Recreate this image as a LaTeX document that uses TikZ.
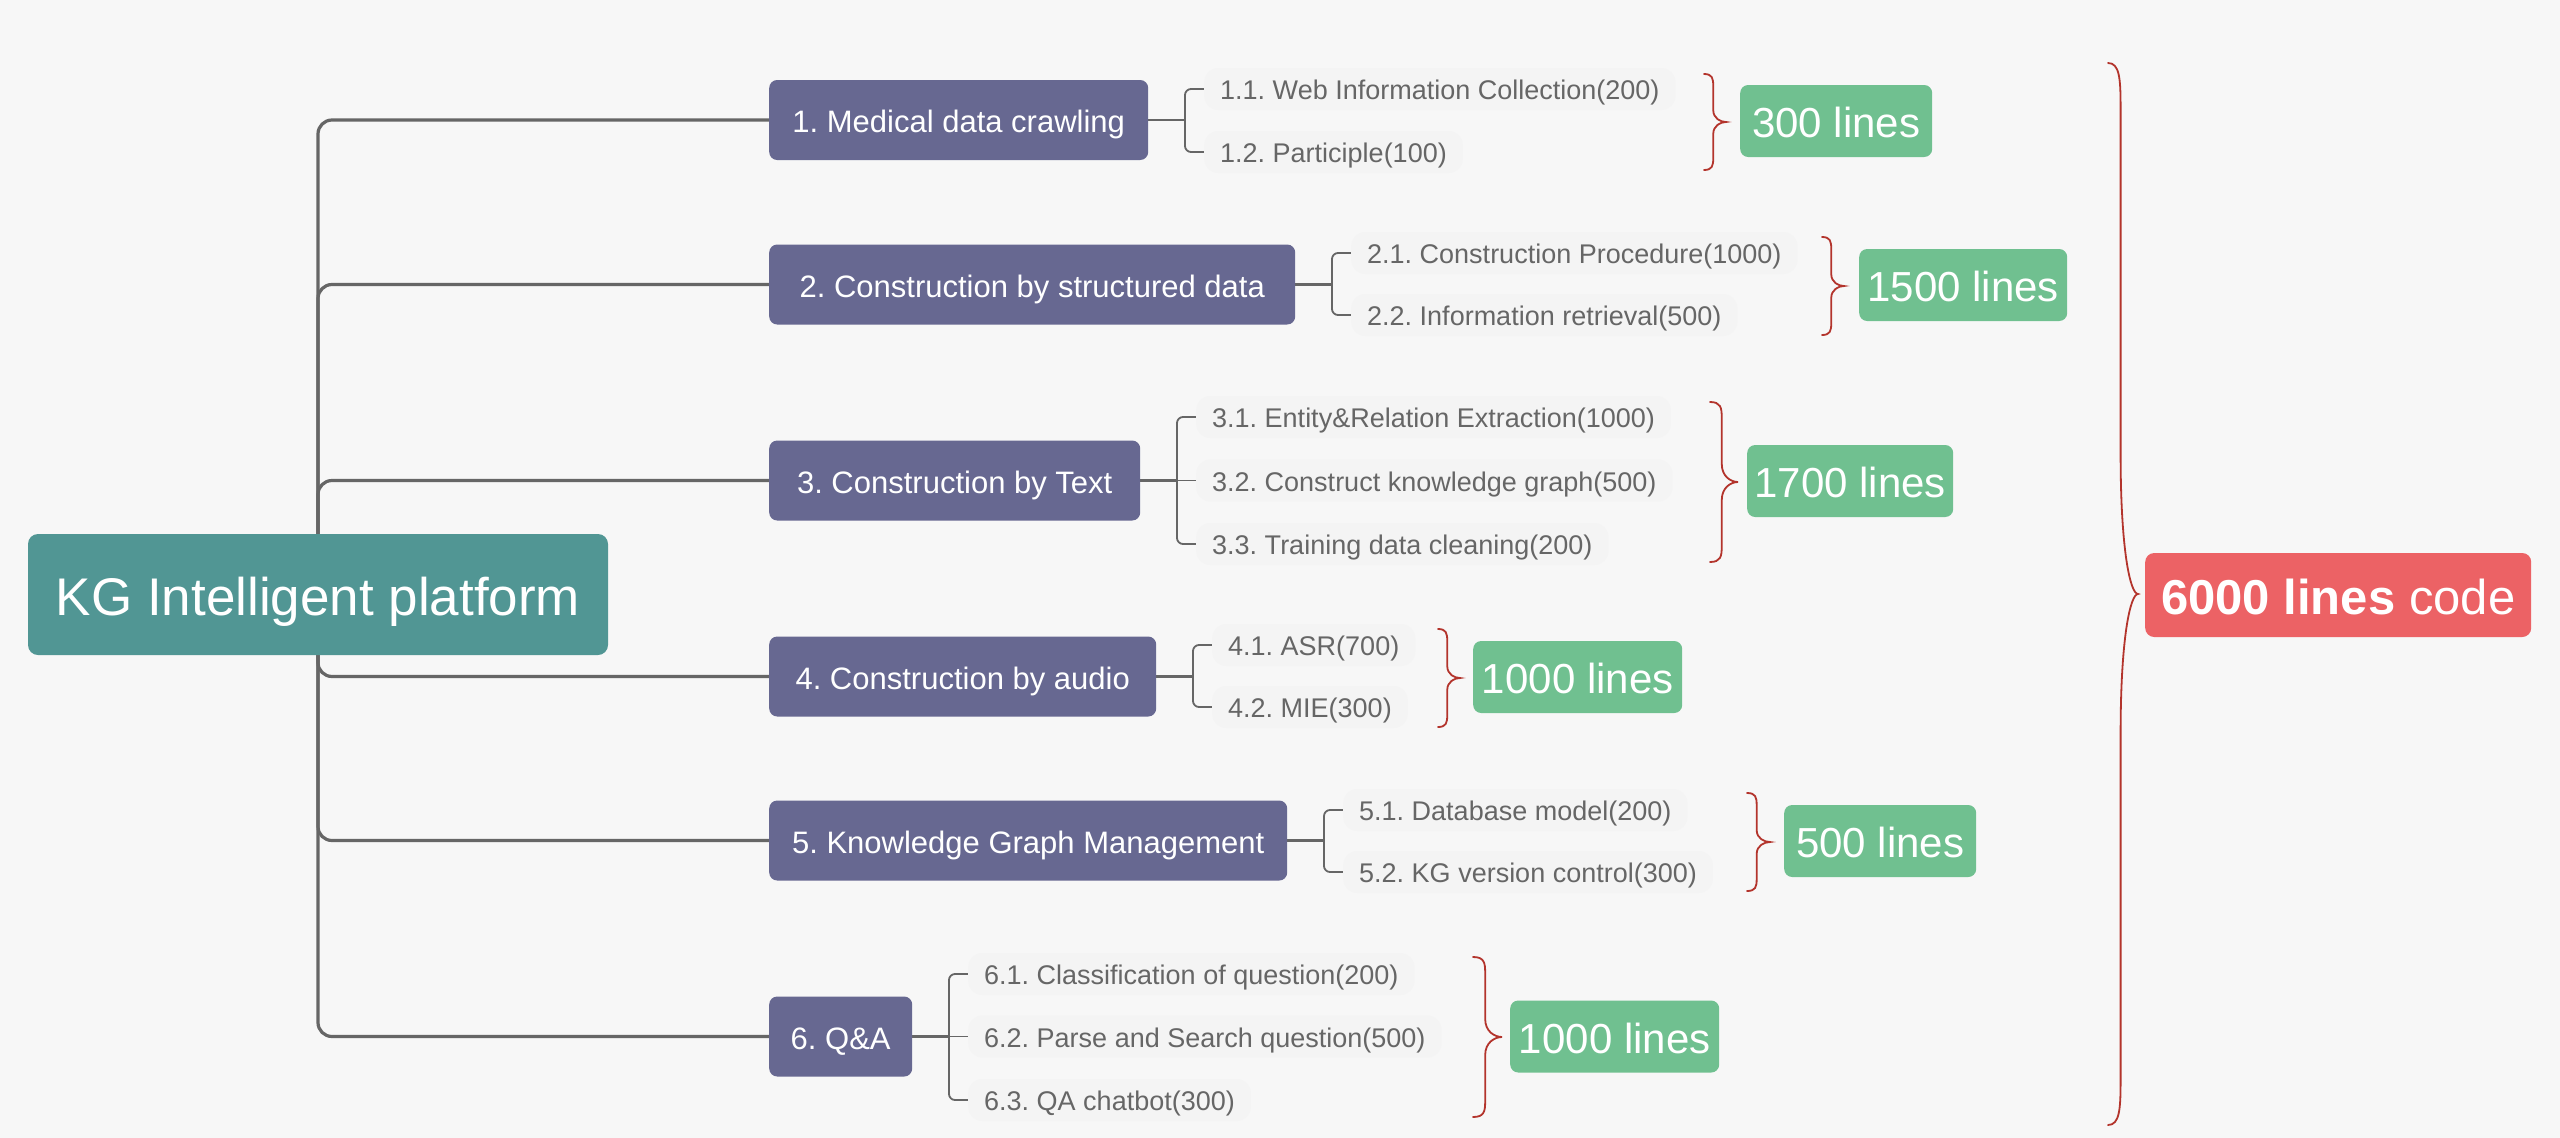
\documentclass[tikz,border=0pt]{standalone}
\usepackage{fontspec}
\setmainfont{Liberation Sans}
\frenchspacing

\definecolor{bgc}{HTML}{F7F7F7}
\definecolor{rootc}{HTML}{519694}
\definecolor{branchc}{HTML}{676891}
\definecolor{leafbg}{HTML}{F4F4F4}
\definecolor{leaftext}{HTML}{666666}
\definecolor{linec}{HTML}{666666}
\definecolor{countc}{HTML}{70C090}
\definecolor{totalc}{HTML}{EC6265}
\definecolor{bracec}{HTML}{B3342C}

\pgfdeclarelayer{back}
\pgfdeclarelayer{wires}
\pgfsetlayers{back,wires,main}

\tikzset{
  rootbox/.style={text height=42pt, text depth=0pt, fill=rootc, text=white, rounded corners=10pt,
    minimum width=580pt, minimum height=121pt, inner sep=0pt, font=\fontsize{53}{62}\selectfont},
  branchbox/.style={text height=25pt, text depth=0pt, fill=branchc, text=white, rounded corners=8pt,
    anchor=west, minimum height=80pt, inner sep=0pt, font=\fontsize{31}{37}\selectfont},
  leaf/.style={text height=21pt, text depth=0pt, fill=leafbg, text=leaftext, rounded corners=14pt,
    anchor=west, minimum height=42pt, inner xsep=16pt, inner ysep=0pt, font=\fontsize{27}{32}\selectfont},
  countbox/.style={text height=33pt, text depth=0pt, fill=countc, text=white, rounded corners=8pt,
    anchor=west, minimum height=72pt, inner sep=0pt, font=\fontsize{42}{50}\selectfont},
  totalbox/.style={text height=38pt, text depth=0pt, fill=totalc, text=white, rounded corners=9pt,
    anchor=west, minimum height=84pt, minimum width=386pt, inner sep=0pt, font=\fontsize{49}{58}\selectfont},
  trunk/.style={draw=linec, line width=3.2pt, rounded corners=14pt},
  stub/.style={draw=linec, line width=2.4pt},
  fork/.style={draw=linec, line width=1.8pt, rounded corners=6pt},
  curly/.style={draw=bracec, line width=1.8pt, line cap=round},
}

% curly brace opening to the right: x0, ytop, ybottom, depth, hook length, sweep length
\newcommand\redbrace[6]{%
  \pgfmathsetmacro\rbX{#1+0.42*#4}%
  \pgfmathsetmacro\rbT{#1+#4}%
  \pgfmathsetmacro\rbM{(#2+#3)/2}%
  \draw[curly] (#1,#2)
    .. controls ({\rbX-1},{#2}) and ({\rbX},{#2+0.35*#5}) .. ({\rbX},{#2+#5})
    -- ({\rbX},{\rbM-#6})
    .. controls ({\rbX},{\rbM-0.3*#6}) and ({\rbT-0.25*#4},{\rbM}) .. ({\rbT},{\rbM})
    .. controls ({\rbT-0.25*#4},{\rbM}) and ({\rbX},{\rbM+0.3*#6}) .. ({\rbX},{\rbM+#6})
    -- ({\rbX},{#3-#5})
    .. controls ({\rbX},{#3-0.35*#5}) and ({\rbX-1},{#3}) .. (#1,#3);
}

\begin{document}
\begin{tikzpicture}[x=1pt, y=-1pt]
  \useasboundingbox (0,0) rectangle (2560,1138);
  \begin{pgfonlayer}{back}
    \fill[bgc] (0,0) rectangle (2560,1138);
  \end{pgfonlayer}

  % root
  \node[rootbox] (root) at (318,594.5) {KG Intelligent platform};

  % main branches
  \node[branchbox, minimum width=379pt] (b1) at (769,120)    {1. Medical data crawling};
  \node[branchbox, minimum width=526pt] (b2) at (769,284.5)  {2. Construction by structured data};
  \node[branchbox, minimum width=371pt] (b3) at (769,480.5)  {3. Construction by Text};
  \node[branchbox, minimum width=387pt] (b4) at (769,676.5)  {4. Construction by audio};
  \node[branchbox, minimum width=518pt] (b5) at (769,840.5)  {5. Knowledge Graph Management};
  \node[branchbox, minimum width=143pt] (b6) at (769,1036.5) {6. Q\&A};

  % sub-items
  \node[leaf] (s11) at (1204,89)  {1.1. Web Information Collection(200)};
  \node[leaf] (s12) at (1204,152) {1.2. Participle(100)};
  \node[leaf] (s21) at (1351,253) {2.1. Construction Procedure(1000)};
  \node[leaf] (s22) at (1351,315) {2.2. Information retrieval(500)};
  \node[leaf] (s31) at (1196,417) {3.1. Entity\&Relation Extraction(1000)};
  \node[leaf] (s32) at (1196,480.5) {3.2. Construct knowledge graph(500)};
  \node[leaf] (s33) at (1196,544) {3.3. Training data cleaning(200)};
  \node[leaf] (s41) at (1212,645) {4.1. ASR(700)};
  \node[leaf] (s42) at (1212,707) {4.2. MIE(300)};
  \node[leaf] (s51) at (1343,810) {5.1. Database model(200)};
  \node[leaf] (s52) at (1343,872) {5.2. KG version control(300)};
  \node[leaf] (s61) at (968,974)  {6.1. Classification of question(200)};
  \node[leaf] (s62) at (968,1036.5) {6.2. Parse and Search question(500)};
  \node[leaf] (s63) at (968,1100) {6.3. QA chatbot(300)};

  % line counts
  \node[countbox, minimum width=192pt] (c1) at (1740,121)    {300 lines};
  \node[countbox, minimum width=208pt] (c2) at (1859,285)    {1500 lines};
  \node[countbox, minimum width=206pt] (c3) at (1747,481)    {1700 lines};
  \node[countbox, minimum width=209pt] (c4) at (1473,677)    {1000 lines};
  \node[countbox, minimum width=192pt] (c5) at (1784,841)    {500 lines};
  \node[countbox, minimum width=209pt] (c6) at (1510,1036.5) {1000 lines};
  \node[totalbox] (total) at (2145,595) {\textbf{6000 lines} code};

  \begin{pgfonlayer}{wires}
    % trunk from the root to each branch
    \foreach \b in {b1,b2,b3,b4,b5,b6}
      \draw[trunk] (root.center) |- (\b.west);

    % forks to the sub-items
    \draw[stub] (b1.east) -- ++(37,0);
    \draw[fork] (s11.west) -- ++(-19,0) |- (s12.west);
    \draw[stub] (b2.east) -- ++(37,0);
    \draw[fork] (s21.west) -- ++(-19,0) |- (s22.west);
    \draw[stub] (b3.east) -- ++(37,0);
    \draw[fork] (b3.east -| s32.west) -- ++(-19,0);
    \draw[fork] (s31.west) -- ++(-19,0) |- (s33.west);
    \draw[stub] (b4.east) -- ++(37,0);
    \draw[fork] (s41.west) -- ++(-19,0) |- (s42.west);
    \draw[stub] (b5.east) -- ++(37,0);
    \draw[fork] (s51.west) -- ++(-19,0) |- (s52.west);
    \draw[stub] (b6.east) -- ++(37,0);
    \draw[fork] (b6.east -| s62.west) -- ++(-19,0);
    \draw[fork] (s61.west) -- ++(-19,0) |- (s63.west);
  \end{pgfonlayer}

  % braces gathering the sub-items
  \redbrace{1704}{74}{170}{22}{12}{12}
  \redbrace{1822}{237}{335}{22}{12}{12}
  \redbrace{1710}{402}{562}{28}{16}{18}
  \redbrace{1438}{629}{727}{22}{12}{12}
  \redbrace{1747}{793}{891}{23}{12}{12}
  \redbrace{1473}{957}{1117}{29}{16}{18}
  \redbrace{2108}{63}{1125}{30}{45}{140}
\end{tikzpicture}
\end{document}
